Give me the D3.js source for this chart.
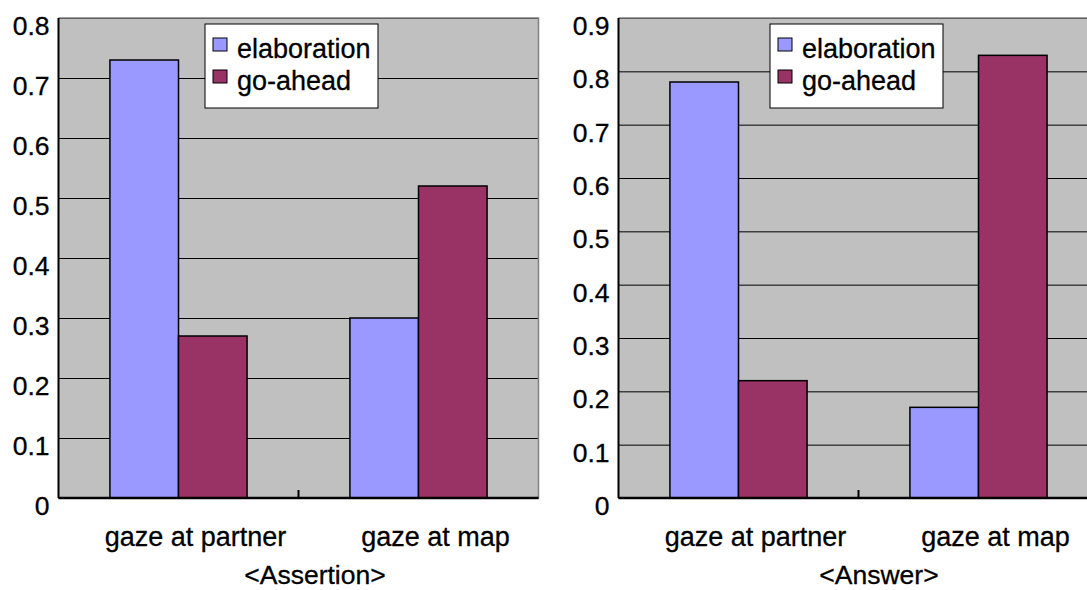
<!DOCTYPE html>
<html>
<head>
<meta charset="utf-8">
<script src="https://cdn.jsdelivr.net/npm/d3@7"></script>
<style>
  html, body { margin: 0; padding: 0; background: #fff; }
  svg { display: block; font-family: "Liberation Sans", Arial, Helvetica, sans-serif; }
</style>
</head>
<body>
<div id="chart"></div>
<script>
// Two grouped bar panels: elaboration vs go-ahead, by gaze target.

const categories = ["gaze at partner", "gaze at map"];
const seriesNames = ["elaboration", "go-ahead"];
const seriesColors = ["#9999FF", "#993366"];

const assertionElaboration = [0.73, 0.30];
const assertionGoAhead = [0.27, 0.52];
const answerElaboration = [0.78, 0.17];
const answerGoAhead = [0.22, 0.83];

const assertionTicks = [0, 0.1, 0.2, 0.3, 0.4, 0.5, 0.6, 0.7, 0.8];
const answerTicks = [0, 0.1, 0.2, 0.3, 0.4, 0.5, 0.6, 0.7, 0.8, 0.9];

const W = 1087, H = 590;
const svg = d3.select("#chart").append("svg").attr("width", W).attr("height", H);

function panel(opts) {
  const { left, right, title, titleX, ticks, values } = opts;
  const top = 18, bottom = 498;
  const g = svg.append("g");

  const y = d3.scaleLinear().domain([0, d3.max(ticks)]).range([bottom, top]);
  const x0 = d3.scaleBand().domain(categories).range([left, right]).padding(0);
  const x1 = d3.scaleBand().domain(seriesNames).range([0, x0.bandwidth()])
    .paddingInner(0).paddingOuter(0.75);

  // plot background
  g.append("rect").attr("x", left).attr("y", top)
    .attr("width", right - left).attr("height", bottom - top)
    .attr("fill", "#C0C0C0");

  // gridlines + tick labels
  const ax = g.append("g").attr("transform", `translate(${left},0)`)
    .call(d3.axisLeft(y).tickValues(ticks).tickSize(-(right - left)).tickPadding(9)
      .tickFormat(d => d === 0 ? "0" : d.toFixed(1)));
  ax.select(".domain").remove();
  ax.selectAll(".tick line").attr("stroke", "#000").attr("stroke-width", 1);
  ax.selectAll(".tick text").attr("fill", "#000").attr("font-size", 26.5)
    .attr("font-family", "Liberation Sans, Arial, sans-serif")
    .attr("stroke", "#000").attr("stroke-width", 0.3)
    .attr("dy", "0.62em");

  // top/right border
  g.append("path").attr("d", `M${left},${top}H${right}V${bottom}`)
    .attr("fill", "none").attr("stroke", "#808080").attr("stroke-width", 1.5);

  // bars
  const rows = categories.map((c, i) => ({ cat: c, vals: seriesNames.map((s, j) => ({ s, v: values[j][i], j })) }));
  g.selectAll("g.grp").data(rows).join("g").attr("class", "grp")
    .attr("transform", d => `translate(${x0(d.cat)},0)`)
    .selectAll("rect").data(d => d.vals).join("rect")
    .attr("x", d => x1(d.s)).attr("width", x1.bandwidth())
    .attr("y", d => y(d.v)).attr("height", d => y(0) - y(d.v))
    .attr("fill", d => seriesColors[d.j])
    .attr("stroke", "#000").attr("stroke-width", 1.5);

  // left axis line
  g.append("line").attr("x1", left).attr("x2", left).attr("y1", top).attr("y2", bottom)
    .attr("stroke", "#000").attr("stroke-width", 2);

  // bottom axis with category separator ticks
  g.append("line").attr("x1", left).attr("x2", right).attr("y1", bottom).attr("y2", bottom)
    .attr("stroke", "#000").attr("stroke-width", 2.5);
  g.selectAll("line.sep").data(categories.slice(1)).join("line").attr("class", "sep")
    .attr("x1", d => x0(d)).attr("x2", d => x0(d))
    .attr("y1", bottom).attr("y2", bottom - 8)
    .attr("stroke", "#000").attr("stroke-width", 2);

  // category labels (sit a little right of the bar groups, as in the original)
  g.selectAll("text.cat").data(categories).join("text").attr("class", "cat")
    .attr("x", d => x0(d) + x0.bandwidth() / 2 + 17).attr("y", 546)
    .attr("text-anchor", "middle").attr("font-size", 27)
    .attr("stroke", "#000").attr("stroke-width", 0.3).text(d => d);

  // panel title
  g.append("text").attr("x", titleX).attr("y", 584)
    .attr("text-anchor", "middle").attr("font-size", 26.5)
    .attr("stroke", "#000").attr("stroke-width", 0.3).text(title);

  // legend
  const lx = opts.legendX, ly = 24;
  const lg = g.append("g").attr("transform", `translate(${lx},${ly})`);
  lg.append("rect").attr("width", 173).attr("height", 84)
    .attr("fill", "#fff").attr("stroke", "#000").attr("stroke-width", 1);
  const item = lg.selectAll("g.item").data(seriesNames).join("g").attr("class", "item")
    .attr("transform", (d, i) => `translate(8,${14 + i * 32})`);
  item.append("rect").attr("width", 14).attr("height", 13)
    .attr("fill", (d, i) => seriesColors[i]).attr("stroke", "#000").attr("stroke-width", 1);
  item.append("text").attr("x", 24).attr("y", 20).attr("font-size", 27)
    .attr("stroke", "#000").attr("stroke-width", 0.3).text(d => d);
}

panel({
  left: 58.5, right: 538.5, ticks: assertionTicks,
  values: [assertionElaboration, assertionGoAhead],
  title: "<Assertion>", titleX: 315, legendX: 205
});
panel({
  left: 618.5, right: 1098.5, ticks: answerTicks,
  values: [answerElaboration, answerGoAhead],
  title: "<Answer>", titleX: 879, legendX: 770
});
</script>
</body>
</html>
